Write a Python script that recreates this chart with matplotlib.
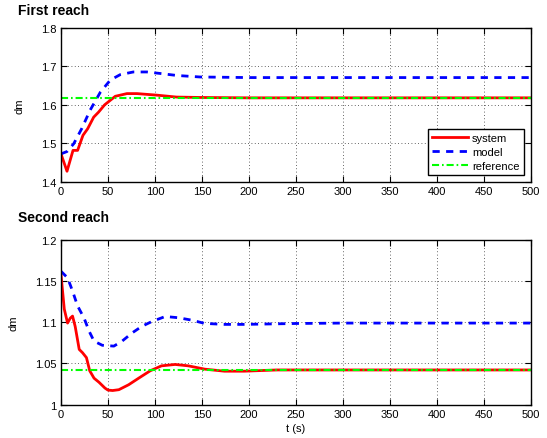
import numpy as np
import matplotlib.pyplot as plt

plt.rcParams['font.family'] = ['Liberation Sans', 'DejaVu Sans']

# ---------------- data ----------------
# first reach
t1_sys = [0, 6.4, 12.8, 17.7, 23.4, 28.4, 34.8, 40, 46.5, 57.8, 70.2, 80.9,
          102, 123, 148, 200, 300, 400, 500]
y1_sys = [1.473, 1.428, 1.482, 1.482, 1.521, 1.538, 1.568, 1.581, 1.600,
          1.622, 1.629, 1.629, 1.625, 1.620, 1.619, 1.618, 1.618, 1.618, 1.618]

t1_mod = [0, 6.4, 13.5, 22, 31, 42, 52.5, 63, 77, 91.5, 106, 123, 148,
          200, 300, 400, 500]
y1_mod = [1.473, 1.479, 1.499, 1.538, 1.586, 1.633, 1.664, 1.678, 1.685,
          1.685, 1.681, 1.676, 1.672, 1.6705, 1.6705, 1.6705, 1.6705]

ref1 = 1.618

# second reach
t2_sys = [0, 3.5, 7, 9.9, 12.3, 15.1, 19.4, 22.9, 27.1, 30.6, 35.2, 40.5,
          46.8, 50, 55, 61.6, 72, 82.7, 95, 107, 121.5, 135.6, 153, 174,
          195, 230, 300, 400, 500]
y2_sys = [1.158, 1.116, 1.099, 1.105, 1.1075, 1.095, 1.067, 1.063, 1.057,
          1.041, 1.032, 1.027, 1.020, 1.0175, 1.017, 1.018, 1.024, 1.032,
          1.041, 1.047, 1.0487, 1.047, 1.043, 1.0405, 1.0405, 1.042, 1.042,
          1.042, 1.042]

t2_mod = [0, 7, 12.3, 17.6, 24.6, 30, 35.2, 44, 56.3, 65, 75.7, 86, 97,
          111, 125, 139, 153, 174, 195, 250, 300, 400, 500]
y2_mod = [1.162, 1.154, 1.138, 1.120, 1.105, 1.089, 1.077, 1.072, 1.071,
          1.077, 1.087, 1.095, 1.101, 1.107, 1.1055, 1.1026, 1.0986, 1.0974,
          1.0974, 1.0985, 1.099, 1.099, 1.099]

ref2 = 1.042

xticks = [0, 50, 100, 150, 200, 250, 300, 350, 400, 450, 500]

DASH = (0, (2.6, 2.3))
DASHDOT = (0, (3.4, 1.4, 0.8, 1.4))

# ---------------- figure ----------------
fig = plt.figure(figsize=(5.47, 4.39), dpi=100)
ax1 = fig.add_axes([0.1115, 0.583, 0.8585, 0.352])
ax2 = fig.add_axes([0.1115, 0.0763, 0.8585, 0.3747])


def style(ax, ylim, yticks, ylabels):
    ax.set_xlim(0, 500)
    ax.set_ylim(*ylim)
    ax.set_xticks(xticks)
    ax.set_yticks(yticks)
    ax.set_yticklabels(ylabels)
    ax.tick_params(direction='in', top=True, right=True, labelsize=8,
                   length=4, width=0.8, pad=3)
    ax.grid(True, color='black', linestyle=(0, (1, 3)), linewidth=0.6, alpha=0.8)
    for s in ax.spines.values():
        s.set_linewidth(1.0)
    ax.set_ylabel('dm', fontsize=8, labelpad=12)


ax1.plot(t1_sys, y1_sys, color='#ff0000', lw=2, label='system')
ax1.plot(t1_mod, y1_mod, color='#0000ff', lw=2, ls=DASH, label='model')
ax1.plot([0, 500], [ref1, ref1], color='#00ff00', lw=1.5,
         ls=DASHDOT, label='reference')
style(ax1, (1.4, 1.8), [1.4, 1.5, 1.6, 1.7, 1.8],
      ['1.4', '1.5', '1.6', '1.7', '1.8'])
leg = ax1.legend(loc='lower right', fontsize=8, fancybox=False,
                 framealpha=1, edgecolor='black', borderaxespad=0.6,
                 handlelength=3.2, labelspacing=0.35, handletextpad=0.4)
leg.get_frame().set_linewidth(1.0)

ax2.plot(t2_sys, y2_sys, color='#ff0000', lw=2)
ax2.plot(t2_mod, y2_mod, color='#0000ff', lw=2, ls=DASH)
ax2.plot([0, 500], [ref2, ref2], color='#00ff00', lw=1.5, ls=DASHDOT)
style(ax2, (1.0, 1.2), [1.0, 1.05, 1.1, 1.15, 1.2],
      ['1', '1.05', '1.1', '1.15', '1.2'])
ax2.set_xlabel('t (s)', fontsize=8, labelpad=3)

fig.text(0.033, 0.975, 'First reach', fontsize=10, fontweight='bold', va='center')
fig.text(0.033, 0.503, 'Second reach', fontsize=10, fontweight='bold', va='center')

fig.savefig('out.png', dpi=100)
